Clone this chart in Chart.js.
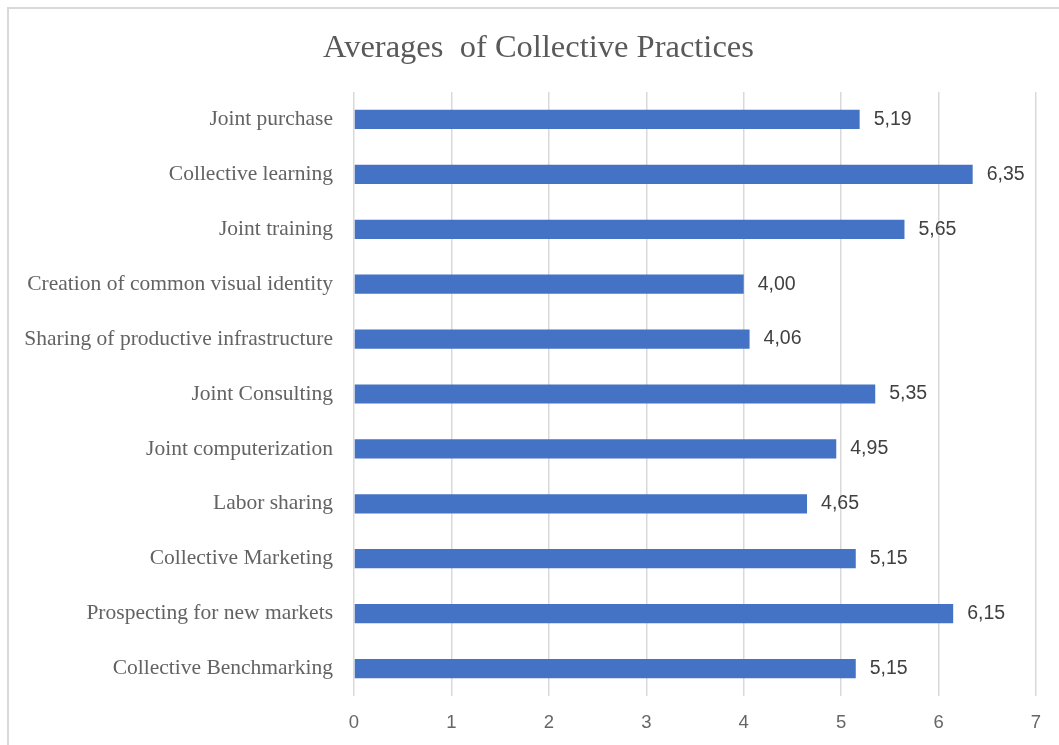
<!DOCTYPE html>
<html>
<head>
<meta charset="utf-8">
<script src="https://cdn.jsdelivr.net/npm/chart.js@4.4.1/dist/chart.umd.min.js"></script>
<style>
  html, body { margin: 0; padding: 0; background: #ffffff; }
  #wrap { position: relative; width: 1059px; height: 745px; overflow: hidden; }
  canvas { display: block; }
</style>
</head>
<body>
<div id="wrap"><canvas id="c" width="1059" height="745"></canvas></div>
<script>
const titleText = "Averages  of Collective Practices";
const categories = [
  "Joint purchase",
  "Collective learning",
  "Joint training",
  "Creation of common visual identity",
  "Sharing of productive infrastructure",
  "Joint Consulting",
  "Joint computerization",
  "Labor sharing",
  "Collective Marketing",
  "Prospecting for new markets",
  "Collective Benchmarking"
];
const averages = [5.19, 6.35, 5.65, 4.00, 4.06, 5.35, 4.95, 4.65, 5.15, 6.15, 5.15];
const xTicks = [0, 1, 2, 3, 4, 5, 6, 7];

const framePlugin = {
  id: 'frame',
  beforeDraw(chart) {
    const ctx = chart.ctx;
    ctx.save();
    ctx.strokeStyle = '#d9d9d9';
    ctx.lineWidth = 2;
    ctx.strokeRect(8, 8, 1200, 900);
    // title
    ctx.font = '32.5px "Liberation Serif", "Times New Roman", serif';
    ctx.fillStyle = '#595959';
    ctx.textAlign = 'center';
    ctx.textBaseline = 'alphabetic';
    ctx.fillText(titleText, 538.5, 57);
    ctx.restore();
  }
};

const valueLabels = {
  id: 'valueLabels',
  afterDatasetsDraw(chart) {
    const ctx = chart.ctx;
    const meta = chart.getDatasetMeta(0);
    ctx.save();
    ctx.font = '19.5px "Liberation Sans", Arial, sans-serif';
    ctx.fillStyle = '#404040';
    ctx.textAlign = 'left';
    ctx.textBaseline = 'middle';
    meta.data.forEach((el, i) => {
      const v = chart.data.datasets[0].data[i];
      ctx.fillText(v.toFixed(2).replace('.', ','), el.x + 14, el.y);
    });
    ctx.restore();
  }
};

new Chart(document.getElementById('c'), {
  type: 'bar',
  data: {
    labels: categories,
    datasets: [{
      data: averages,
      backgroundColor: '#4472c4',
      borderWidth: 0,
      categoryPercentage: 1.0,
      barPercentage: 0.35
    }]
  },
  options: {
    indexAxis: 'y',
    responsive: false,
    animation: false,
    devicePixelRatio: 1,
    layout: { padding: { left: 0, right: 23, top: 92, bottom: 0 } },
    plugins: {
      legend: { display: false },
      tooltip: { enabled: false },
      title: { display: false }
    },
    scales: {
      x: {
        min: 0,
        max: 7,
        afterBuildTicks: (scale) => { scale.ticks = xTicks.map(v => ({ value: v })); },
        afterFit: (scale) => { scale.height = 49; },
        grid: { color: '#d9d9d9', lineWidth: 1.5, drawTicks: false },
        border: { display: false },
        ticks: {
          color: '#666666',
          padding: 16,
          font: { family: '"Liberation Sans", Arial, sans-serif', size: 18.5 }
        }
      },
      y: {
        afterFit: (scale) => { scale.width = 354; },
        grid: { display: false, drawTicks: false },
        border: { display: false },
        ticks: {
          color: '#636363',
          padding: 21,
          font: { family: '"Liberation Serif", "Times New Roman", serif', size: 21.5 }
        }
      }
    }
  },
  plugins: [framePlugin, valueLabels]
});
</script>
</body>
</html>
